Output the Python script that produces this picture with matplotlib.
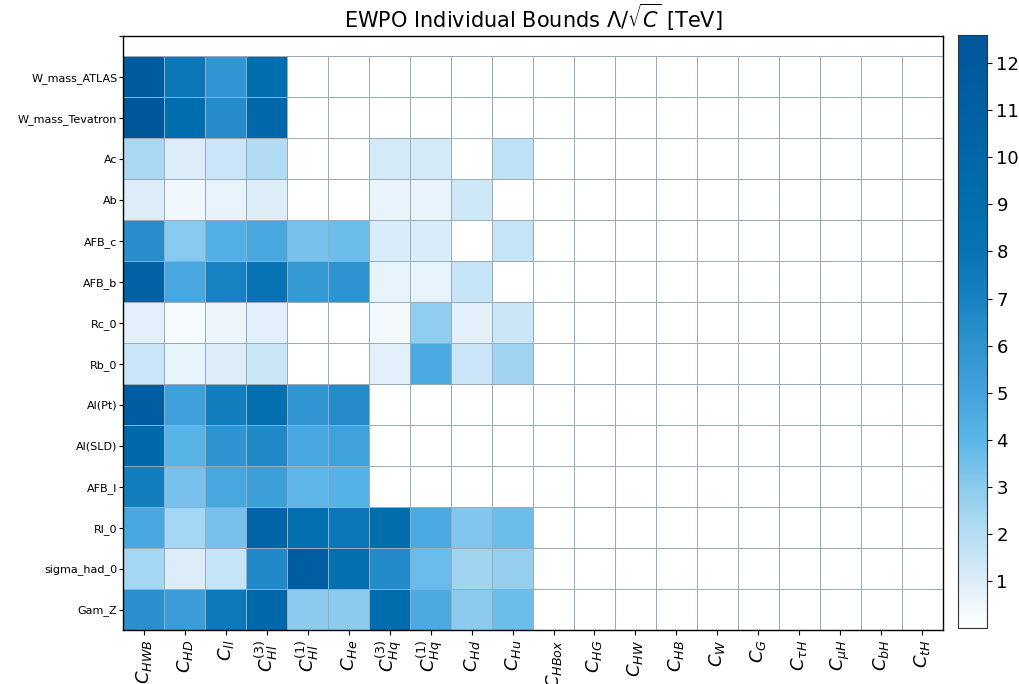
import numpy as np
import matplotlib
matplotlib.use("Agg")
import matplotlib.pyplot as plt
from matplotlib.colors import LinearSegmentedColormap

# Observables (top to bottom)
observables = ["W_mass_ATLAS", "W_mass_Tevatron", "Ac", "Ab", "AFB_c", "AFB_b",
               "Rc_0", "Rb_0", "Al(Pt)", "Al(SLD)", "AFB_l", "Rl_0",
               "sigma_had_0", "Gam_Z"]

# Wilson coefficients (columns)
coefficients = [r"$C_{HWB}$", r"$C_{HD}$", r"$C_{ll}$", r"$C_{Hl}^{(3)}$",
                r"$C_{Hl}^{(1)}$", r"$C_{He}$", r"$C_{Hq}^{(3)}$", r"$C_{Hq}^{(1)}$",
                r"$C_{Hd}$", r"$C_{Hu}$", r"$C_{HBox}$", r"$C_{HG}$", r"$C_{HW}$",
                r"$C_{HB}$", r"$C_{W}$", r"$C_{G}$", r"$C_{\tau H}$", r"$C_{\mu H}$",
                r"$C_{bH}$", r"$C_{tH}$"]

# Bounds Lambda/sqrt(C) [TeV] per observable, first 10 coefficients (rest are 0)
W_mass_ATLAS    = [12.0, 7.8, 5.9, 9.0, 0, 0, 0, 0, 0, 0]
W_mass_Tevatron = [12.6, 9.0, 6.4, 9.8, 0, 0, 0, 0, 0, 0]
Ac              = [2.3, 1.0, 1.5, 2.1, 0, 0, 1.2, 1.2, 0, 1.8]
Ab              = [1.0, 0.4, 0.7, 0.95, 0, 0, 0.65, 0.65, 1.4, 0]
AFB_c           = [6.3, 3.1, 4.3, 4.8, 3.4, 3.6, 1.1, 1.1, 0, 1.6]
AFB_b           = [10.8, 4.8, 7.0, 8.2, 5.7, 6.1, 0.7, 0.7, 1.6, 0]
Rc_0            = [0.85, 0.3, 0.55, 0.85, 0, 0, 0.35, 2.9, 0.85, 1.45]
Rb_0            = [1.5, 0.7, 1.0, 1.45, 0, 0, 0.85, 4.7, 1.5, 2.5]
Al_Pt           = [11.5, 5.2, 7.3, 8.8, 5.9, 6.4, 0, 0, 0, 0]
Al_SLD          = [9.7, 4.1, 6.0, 6.6, 4.8, 5.1, 0, 0, 0, 0]
AFB_l           = [7.3, 3.4, 4.8, 5.3, 3.9, 4.2, 0, 0, 0, 0]
Rl_0            = [4.8, 2.4, 3.4, 10.2, 8.7, 7.8, 9.2, 4.7, 3.2, 3.6]
sigma_had_0     = [2.4, 1.0, 1.6, 6.6, 11.5, 8.8, 6.5, 3.7, 2.5, 2.8]
Gam_Z           = [6.2, 5.4, 7.6, 9.8, 3.0, 3.0, 9.2, 4.6, 3.0, 3.6]

rows = [W_mass_ATLAS, W_mass_Tevatron, Ac, Ab, AFB_c, AFB_b, Rc_0, Rb_0,
        Al_Pt, Al_SLD, AFB_l, Rl_0, sigma_had_0, Gam_Z]

ncols = len(coefficients)
data = np.zeros((len(rows), ncols))
for i, r in enumerate(rows):
    data[i, :len(r)] = r
data = data[::-1]  # bottom row first
vmax = data.max()

cmap = LinearSegmentedColormap.from_list("ewpo", [
    (0.0, "#ffffff"), (1 / vmax, "#dcedf9"), (2 / vmax, "#b5ddf4"),
    (3 / vmax, "#8bcaee"), (4 / vmax, "#5ab5e8"), (5 / vmax, "#42a3dc"),
    (6 / vmax, "#2f94cf"), (7 / vmax, "#1782c2"), (8 / vmax, "#0874b5"),
    (9 / vmax, "#006eae"), (10 / vmax, "#0067a9"), (11 / vmax, "#0060a4"),
    (1.0, "#00569b")])

fig = plt.figure(figsize=(10.2, 6.84), dpi=100)
ax = fig.add_axes([0.1206, 0.0789, 0.8039, 0.8685])
cax = fig.add_axes([0.939, 0.0819, 0.0284, 0.867])

mesh = ax.pcolormesh(np.arange(ncols + 1), np.arange(len(rows) + 1), data,
                     cmap=cmap, vmin=0, vmax=vmax,
                     edgecolors="#98acba", linewidth=0.6)
ax.set_xlim(0, ncols)
ax.set_ylim(0, len(rows) + 0.5)

ax.set_xticks(np.arange(ncols) + 0.5)
ax.set_xticklabels(coefficients, rotation=90, fontsize=13)
yt = list(np.arange(len(rows)) + 0.5) + [len(rows) + 0.5]
ax.set_yticks(yt)
ax.set_yticklabels(observables[::-1] + [""], fontsize=8)
ax.tick_params(axis="y", pad=1, length=3)
for s in ax.spines.values():
    s.set_linewidth(1.0)

ax.set_title(r"EWPO Individual Bounds $\Lambda/\sqrt{C}$ [TeV]", fontsize=15, pad=6)

cb = fig.colorbar(mesh, cax=cax)
cb.set_ticks(np.arange(1, 13))
cb.ax.tick_params(labelsize=13)
cb.outline.set_edgecolor("#333333")

fig.savefig("out.png", dpi=100)
